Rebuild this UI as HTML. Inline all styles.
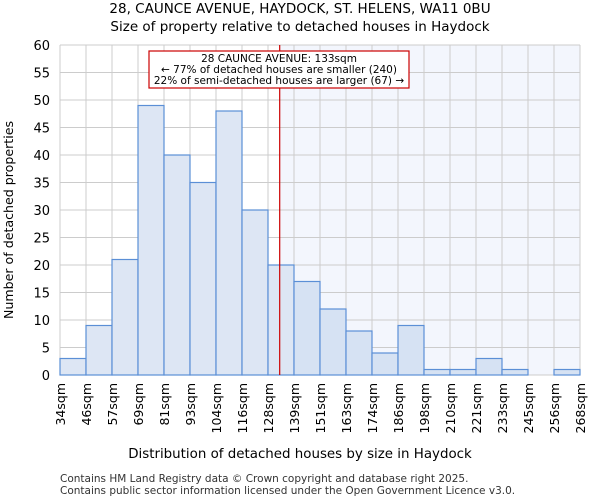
<!DOCTYPE html>
<html><head><meta charset="utf-8"><style>
body{margin:0;background:#fff;font-family:"DejaVu Sans","Liberation Sans",sans-serif;}
</style></head><body>
<svg width="600" height="500" xmlns="http://www.w3.org/2000/svg" font-family="DejaVu Sans, Liberation Sans, sans-serif">
<text x="300" y="13" text-anchor="middle" font-size="13.5">28, CAUNCE AVENUE, HAYDOCK, ST. HELENS, WA11 0BU</text>
<text x="300" y="31" text-anchor="middle" font-size="13.5">Size of property relative to detached houses in Haydock</text>
<g id="plot"></g>
<text x="300" y="458" text-anchor="middle" font-size="13.4">Distribution of detached houses by size in Haydock</text>
<text transform="translate(13,220) rotate(-90)" text-anchor="middle" font-size="12.6">Number of detached properties</text>
<text x="60" y="482" font-size="10.5" fill="#333">Contains HM Land Registry data © Crown copyright and database right 2025.</text>
<text x="60" y="494" font-size="10.5" fill="#333">Contains public sector information licensed under the Open Government Licence v3.0.</text>
</svg>
<script>
const labels=["34sqm","46sqm","57sqm","69sqm","81sqm","93sqm","104sqm","116sqm","128sqm","139sqm","151sqm","163sqm","174sqm","186sqm","198sqm","210sqm","221sqm","233sqm","245sqm","256sqm","268sqm"];
const counts=[3,9,21,49,40,35,48,30,20,17,12,8,4,9,1,1,3,1,0,1];
const yTicks=[0,5,10,15,20,25,30,35,40,45,50,55,60];
const markerBin=8.45;
const NS="http://www.w3.org/2000/svg";
const g=document.getElementById('plot');
const x0=60,x1=580,yTop=45,yBot=375;
const bw=(x1-x0)/counts.length;
const X=i=>x0+i*bw;
const Y=v=>yBot-(v/60)*(yBot-yTop);
function mk(t,a,txt){const e=document.createElementNS(NS,t);for(const k in a)e.setAttribute(k,a[k]);if(txt!==undefined)e.textContent=txt;g.appendChild(e);return e;}
const mx=X(markerBin);
let e=mk('rect',{x:mx,y:yTop,width:x1-mx,height:yBot-yTop,fill:'#f3f6fd'});


yTicks.forEach(v=>{
 e=mk('line',{x1:x0,x2:x1,y1:Y(v),y2:Y(v),stroke:'#cccccc'});
 
 
 e=mk('text',{x:x0-10,y:Y(v)+5,'text-anchor':'end','font-size':13},v);
 
 
});
labels.forEach((l,i)=>{
 e=mk('line',{x1:X(i),x2:X(i),y1:yTop,y2:yBot,stroke:'#cccccc'});
 
 
 e=mk('text',{transform:`translate(${X(i)+5},${yBot+8}) rotate(-90)`,'text-anchor':'end','font-size':12.5},l);
 
 
});
counts.forEach((c,i)=>{
 if(c<=0)return;
 e=mk('rect',{x:X(i),y:Y(c),width:bw,height:yBot-Y(c),fill:i>=9?'#d6e2f3':'#dde6f4',stroke:'#5b8fd6','stroke-width':1.2});
 
 
});
e=mk('line',{x1:mx,x2:mx,y1:yTop,y2:yBot,stroke:'#cc0000','stroke-width':1.2});


e=mk('rect',{x:149,y:51,width:260,height:37,fill:'#fff',stroke:'#cc0000','stroke-width':1.2});


["28 CAUNCE AVENUE: 133sqm","← 77% of detached houses are smaller (240)","22% of semi-detached houses are larger (67) →"].forEach((t,k)=>{
 e=mk('text',{x:279,y:62+k*11,'text-anchor':'middle','font-size':10.5},t);
 
 
});
</script>
</body></html>
